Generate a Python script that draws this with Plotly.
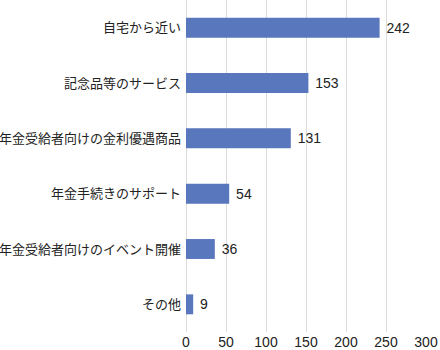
import plotly.graph_objects as go

categories = ["自宅から近い", "記念品等のサービス", "年金受給者向けの金利優遇商品",
              "年金手続きのサポート", "年金受給者向けのイベント開催", "その他"]
values = [242, 153, 131, 54, 36, 9]
x_ticks = [0, 50, 100, 150, 200, 250, 300]

font_family = "Noto Sans CJK JP, Noto Sans, sans-serif"

fig = go.Figure(go.Bar(
    x=values,
    y=categories,
    orientation="h",
    marker=dict(color="rgb(88,119,189)", line=dict(width=0)),
    text=["\u00a0" + str(v) for v in values],
    textposition="outside",
    textfont=dict(size=14, color="#222222", family="Liberation Sans, Arial, sans-serif"),
    cliponaxis=False,
    width=0.36,
))

fig.update_layout(
    width=440, height=350,
    margin=dict(l=186, r=14, t=0, b=18),
    paper_bgcolor="white",
    plot_bgcolor="white",
    showlegend=False,
    font=dict(family=font_family, size=13, color="#222222"),
)
fig.update_xaxes(
    range=[0, 300],
    tickvals=x_ticks,
    showgrid=True, gridcolor="#dcdcdc", gridwidth=1,
    zeroline=True, zerolinecolor="#dcdcdc", zerolinewidth=1,
    showline=False,
    tickfont=dict(size=14, family="Liberation Sans, Arial, sans-serif", color="#222222"),
    ticklabelstandoff=0,
)
fig.update_yaxes(
    categoryorder="array",
    categoryarray=categories[::-1],
    showgrid=False, zeroline=False, showline=False,
    tickfont=dict(size=13, family=font_family, color="#222222"),
    ticklabelstandoff=4,
)

fig.write_html("out.html")
